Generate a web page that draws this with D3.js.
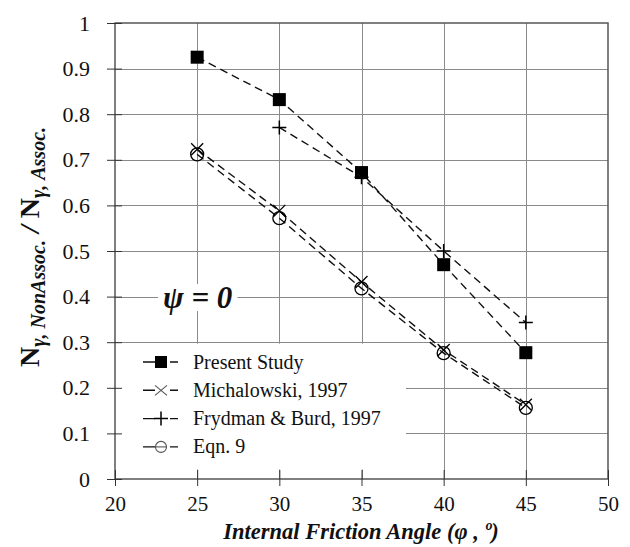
<!DOCTYPE html>
<head>
  <meta charset="utf-8">
  <script src="https://cdnjs.cloudflare.com/ajax/libs/d3/7.8.5/d3.min.js"></script>
</head>
<body style="margin:0">
  <div id="vis"></div>
  <script>
    // data
    var angles = [25, 30, 35, 40, 45];
    var presentStudy = [0.925, 0.832, 0.672, 0.470, 0.277];
    var michalowski = [0.723, 0.588, 0.432, 0.283, 0.163];
    var frydmanBurd = [null, 0.771, 0.662, 0.500, 0.343];
    var eqn9 = [0.712, 0.572, 0.418, 0.276, 0.156];
    var seriesNames = ["Present Study", "Michalowski, 1997", "Frydman & Burd, 1997", "Eqn. 9"];
    var xTicks = [20, 25, 30, 35, 40, 45, 50];
    var yTicks = [0, 0.1, 0.2, 0.3, 0.4, 0.5, 0.6, 0.7, 0.8, 0.9, 1];

    var FONT = "'Liberation Serif'";
    var width = 630, height = 547;
    var svg = d3.select("#vis").append("svg")
      .attr("width", width)
      .attr("height", height);

    var x = d3.scaleLinear().domain([20, 50]).range([115, 608]);
    var y = d3.scaleLinear().domain([0, 1]).range([479, 23]);

    // grid
    var grid = svg.append("g").attr("stroke", "#8a8a8a").attr("stroke-width", 1);
    xTicks.slice(1, -1).forEach(function(t) {
      grid.append("line")
        .attr("x1", Math.round(x(t)) + 0.5).attr("x2", Math.round(x(t)) + 0.5)
        .attr("y1", y(1)).attr("y2", y(0));
    });
    yTicks.slice(1, -1).forEach(function(t) {
      grid.append("line")
        .attr("x1", x(20)).attr("x2", x(50))
        .attr("y1", Math.round(y(t)) + 0.5).attr("y2", Math.round(y(t)) + 0.5);
    });

    // legend background
    svg.append("rect")
      .attr("x", x(20) + 1).attr("y", y(0.3) + 1.5)
      .attr("width", 405 - x(20)).attr("height", 468 - y(0.3))
      .attr("fill", "#fff");

    // psi label with white box behind it
    var psiBox = svg.append("rect").attr("fill", "#fff");
    var psi = svg.append("text")
      .attr("x", 163).attr("y", 308)
      .attr("font-family", FONT)
      .attr("font-size", 31).attr("font-weight", "bold").attr("font-style", "italic")
      .attr("fill", "#111")
      .text("ψ = 0");
    var bb = psi.node().getBBox();
    psiBox.attr("x", bb.x - 5).attr("y", bb.y + 4)
      .attr("width", bb.width + 10).attr("height", bb.height - 8);

    // frame
    svg.append("rect")
      .attr("x", x(20)).attr("y", y(1))
      .attr("width", x(50) - x(20)).attr("height", y(0) - y(1))
      .attr("fill", "none").attr("stroke", "#555").attr("stroke-width", 1.5);

    // axes
    var xAxis = d3.axisBottom(x).tickValues(xTicks).tickSize(7).tickPadding(10);
    svg.append("g").attr("transform", "translate(0," + y(0) + ")").call(xAxis)
      .attr("font-family", FONT)
      .call(function(g) {
        g.select(".domain").remove();
        g.selectAll(".tick line").attr("y1", -9).attr("stroke", "#333");
        g.selectAll(".tick text").attr("font-size", 21).attr("font-family", FONT).attr("fill", "#111");
      });

    var yAxis = d3.axisLeft(y).tickValues(yTicks).tickSize(8).tickPadding(17)
      .tickFormat(function(d) { return d === 0 || d === 1 ? d : d3.format(".1f")(d); });
    svg.append("g").attr("transform", "translate(" + x(20) + ",0)").call(yAxis)
      .attr("font-family", FONT)
      .call(function(g) {
        g.select(".domain").remove();
        g.selectAll(".tick line").attr("x2", 7).attr("x1", -8).attr("stroke", "#333");
        g.selectAll(".tick text").attr("font-size", 22).attr("font-family", FONT).attr("fill", "#111");
      });

    // series
    var allSeries = [presentStudy, michalowski, frydmanBurd, eqn9];
    var markers = ["square", "cross", "plus", "circle"];

    function drawMarker(g, type, cx, cy) {
      if (type === "square") {
        g.append("rect").attr("x", cx - 6.5).attr("y", cy - 6.5)
          .attr("width", 13).attr("height", 13).attr("fill", "#000");
      } else if (type === "cross") {
        g.append("path").attr("d", "M" + (cx - 6) + "," + (cy - 6) + "L" + (cx + 6) + "," + (cy + 6) +
          "M" + (cx - 6) + "," + (cy + 6) + "L" + (cx + 6) + "," + (cy - 6))
          .attr("stroke", "#000").attr("stroke-width", 1.3).attr("fill", "none");
      } else if (type === "plus") {
        g.append("path").attr("d", "M" + (cx - 7) + "," + cy + "L" + (cx + 7) + "," + cy +
          "M" + cx + "," + (cy - 7) + "L" + cx + "," + (cy + 7))
          .attr("stroke", "#000").attr("stroke-width", 1.5).attr("fill", "none");
      } else {
        g.append("circle").attr("cx", cx).attr("cy", cy).attr("r", 6.5)
          .attr("stroke", "#000").attr("stroke-width", 1.3).attr("fill", "none");
      }
    }

    var line = d3.line()
      .defined(function(d) { return d[1] != null; })
      .x(function(d) { return x(d[0]); })
      .y(function(d) { return y(d[1]); });

    allSeries.forEach(function(s, i) {
      var pts = angles.map(function(a, j) { return [a, s[j]]; });
      svg.append("path").datum(pts)
        .attr("d", line)
        .attr("fill", "none").attr("stroke", "#111")
        .attr("stroke-width", 1.4).attr("stroke-dasharray", "8,5");
      var g = svg.append("g");
      pts.filter(function(d) { return d[1] != null; }).forEach(function(d) {
        drawMarker(g, markers[i], x(d[0]), y(d[1]));
      });
    });

    // legend
    var legend = svg.append("g");
    seriesNames.forEach(function(name, i) {
      var ly = 362 + i * 28.3;
      legend.append("line").attr("x1", 143).attr("x2", 178).attr("y1", ly).attr("y2", ly)
        .attr("stroke", "#111").attr("stroke-width", 1.4).attr("stroke-dasharray", "12,15,8");
      var g = legend.append("g");
      if (markers[i] === "square") {
        g.append("rect").attr("x", 155).attr("y", ly - 6).attr("width", 12).attr("height", 12).attr("fill", "#000");
      } else if (markers[i] === "cross") {
        g.append("path").attr("d", "M155," + (ly - 5) + "L167," + (ly + 5) + "M155," + (ly + 5) + "L167," + (ly - 5))
          .attr("stroke", "#555").attr("stroke-width", 1.1);
      } else if (markers[i] === "plus") {
        g.append("path").attr("d", "M154," + ly + "L168," + ly + "M161," + (ly - 7) + "L161," + (ly + 7))
          .attr("stroke", "#000").attr("stroke-width", 1.5);
      } else {
        g.append("circle").attr("cx", 161).attr("cy", ly).attr("r", 5.5)
          .attr("stroke", "#555").attr("stroke-width", 1.1).attr("fill", "none");
        g.append("line").attr("x1", 155).attr("x2", 167).attr("y1", ly).attr("y2", ly)
          .attr("stroke", "#555").attr("stroke-width", 1.1);
      }
      legend.append("text").attr("x", 193).attr("y", ly + 6.5)
        .attr("font-family", FONT)
        .attr("font-size", 20).attr("fill", "#111").text(name);
    });

    // axis titles
    svg.append("text")
      .attr("x", 361).attr("y", 539)
      .attr("text-anchor", "middle")
      .attr("font-family", FONT)
      .attr("font-size", 22.5).attr("font-weight", "bold").attr("font-style", "italic")
      .attr("fill", "#111")
      .text("Internal Friction Angle (φ , º)");

    var yTitle = svg.append("text")
      .attr("transform", "translate(39,247) rotate(-90)")
      .attr("text-anchor", "middle")
      .attr("font-family", FONT)
      .attr("font-weight", "bold")
      .attr("fill", "#111");
    yTitle.append("tspan").attr("font-size", 28).text("N");
    yTitle.append("tspan").attr("font-size", 20).attr("font-style", "italic").attr("dy", 6).text("γ, NonAssoc.");
    yTitle.append("tspan").attr("font-size", 28).attr("font-style", "italic").attr("dy", -6).text(" / ");
    yTitle.append("tspan").attr("font-size", 28).text("N");
    yTitle.append("tspan").attr("font-size", 20).attr("font-style", "italic").attr("dy", 6).text("γ, Assoc.");
  </script>
</body>
